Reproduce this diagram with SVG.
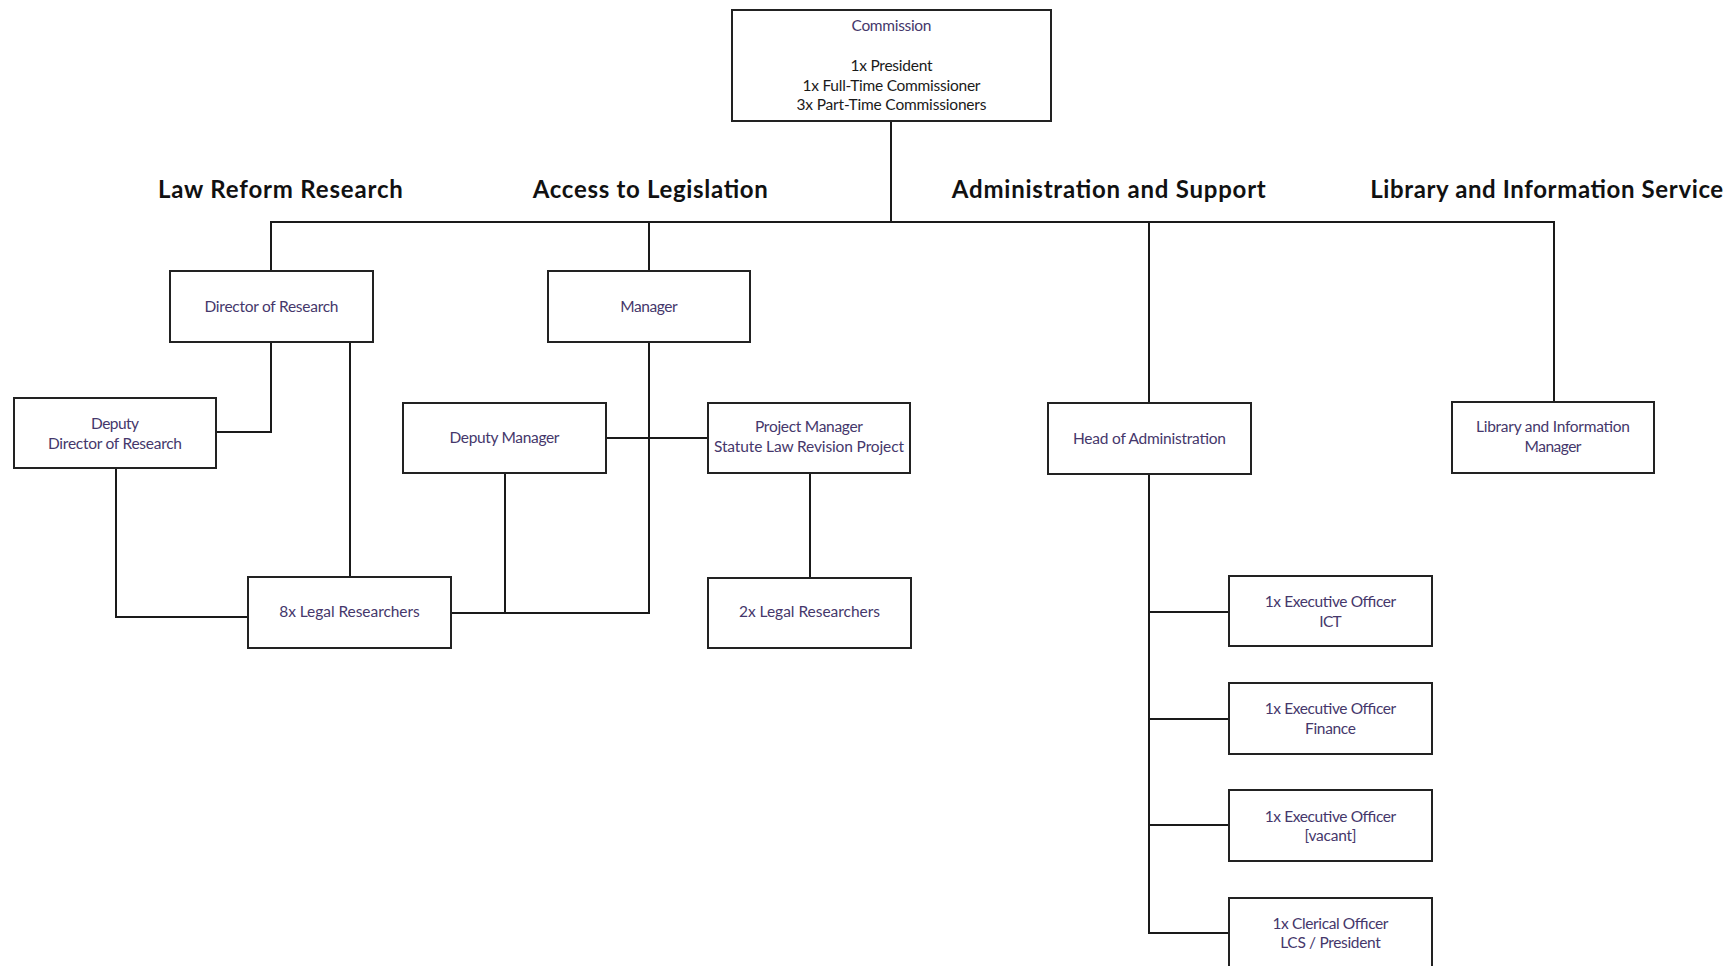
<svg xmlns="http://www.w3.org/2000/svg" width="1735" height="966" viewBox="0 0 1735 966">
<style>
.box{fill:#ffffff;stroke:#222222;stroke-width:2}
.con{fill:none;stroke:#1a1a1a;stroke-width:2}
.t{font-family:Lato,"Noto Sans","Liberation Sans",sans-serif;font-size:15.5px;fill:#45376b;text-anchor:middle}
.k{fill:#1a1a1a}
.h{font-family:Lato,"Noto Sans","Liberation Sans",sans-serif;font-size:24px;font-weight:bold;fill:#111111;text-anchor:middle}
</style>
<rect width="1735" height="966" fill="#ffffff"/>
<g id="headers">
<text class="h" x="280.4" y="198" textLength="245">Law Reform Research</text>
<text class="h" x="650.3" y="198" textLength="235">Access to Legislation</text>
<text class="h" x="1108.8" y="198" textLength="314">Administration and Support</text>
<text class="h" x="1546.7" y="198" textLength="353">Library and Information Service</text>
</g>
<g id="connectors">
<path class="con" d="M891,121 V222"/>
<path class="con" d="M271,271 V222 H1554 V402"/>
<path class="con" d="M649,222 V271"/>
<path class="con" d="M1149,222 V403"/>
<path class="con" d="M271,342 V432 H216"/>
<path class="con" d="M350,342 V577"/>
<path class="con" d="M116,468 V617 H248"/>
<path class="con" d="M649,342 V613 H451"/>
<path class="con" d="M505,473 V613"/>
<path class="con" d="M606,438 H708"/>
<path class="con" d="M810,473 V578"/>
<path class="con" d="M1149,474 V933 H1229"/>
<path class="con" d="M1149,612 H1229"/>
<path class="con" d="M1149,719 H1229"/>
<path class="con" d="M1149,825 H1229"/>
</g>
<g id="commission">
<rect class="box" x="732" y="10" width="319" height="111"/>
<text class="t" x="891.5" y="31" textLength="80">Commission</text>
<text class="t k" x="891.5" y="71" textLength="82">1x President</text>
<text class="t k" x="891.5" y="91" textLength="178">1x Full-Time Commissioner</text>
<text class="t k" x="891.5" y="110" textLength="190">3x Part-Time Commissioners</text>
</g>
<g id="director-of-research">
<rect class="box" x="170" y="271" width="203" height="71"/>
<text class="t" x="271.5" y="312" textLength="134">Director of Research</text>
</g>
<g id="deputy-director">
<rect class="box" x="14" y="398" width="202" height="70"/>
<text class="t" x="115" y="429" textLength="48">Deputy</text>
<text class="t" x="115" y="449" textLength="134">Director of Research</text>
</g>
<g id="legal-researchers-8">
<rect class="box" x="248" y="577" width="203" height="71"/>
<text class="t" x="349.5" y="617" textLength="140.5">8x Legal Researchers</text>
</g>
<g id="manager">
<rect class="box" x="548" y="271" width="202" height="71"/>
<text class="t" x="649" y="312" textLength="57.5">Manager</text>
</g>
<g id="deputy-manager">
<rect class="box" x="403" y="403" width="203" height="70"/>
<text class="t" x="504.5" y="443" textLength="110">Deputy Manager</text>
</g>
<g id="project-manager">
<rect class="box" x="708" y="403" width="202" height="70"/>
<text class="t" x="809" y="432" textLength="108">Project Manager</text>
<text class="t" x="809" y="452" textLength="190">Statute Law Revision Project</text>
</g>
<g id="legal-researchers-2">
<rect class="box" x="708" y="578" width="203" height="70"/>
<text class="t" x="809.5" y="617" textLength="141">2x Legal Researchers</text>
</g>
<g id="head-of-administration">
<rect class="box" x="1048" y="403" width="203" height="71"/>
<text class="t" x="1149.5" y="444" textLength="153">Head of Administration</text>
</g>
<g id="eo-ict">
<rect class="box" x="1229" y="576" width="203" height="70"/>
<text class="t" x="1330.5" y="607" textLength="131.5">1x Executive Officer</text>
<text class="t" x="1330.5" y="627" textLength="22.5">ICT</text>
</g>
<g id="eo-finance">
<rect class="box" x="1229" y="683" width="203" height="71"/>
<text class="t" x="1330.5" y="714" textLength="131.5">1x Executive Officer</text>
<text class="t" x="1330.5" y="734" textLength="51">Finance</text>
</g>
<g id="eo-vacant">
<rect class="box" x="1229" y="790" width="203" height="71"/>
<text class="t" x="1330.5" y="821.5" textLength="131.5">1x Executive Officer</text>
<text class="t" x="1330.5" y="841" textLength="52">[vacant]</text>
</g>
<g id="clerical-officer">
<rect class="box" x="1229" y="898" width="203" height="71"/>
<text class="t" x="1330.5" y="929" textLength="116">1x Clerical Officer</text>
<text class="t" x="1330.5" y="948" textLength="100.5">LCS / President</text>
</g>
<g id="library-manager">
<rect class="box" x="1452" y="402" width="202" height="71"/>
<text class="t" x="1553" y="432" textLength="154">Library and Information</text>
<text class="t" x="1553" y="452" textLength="57">Manager</text>
</g>
</svg>
